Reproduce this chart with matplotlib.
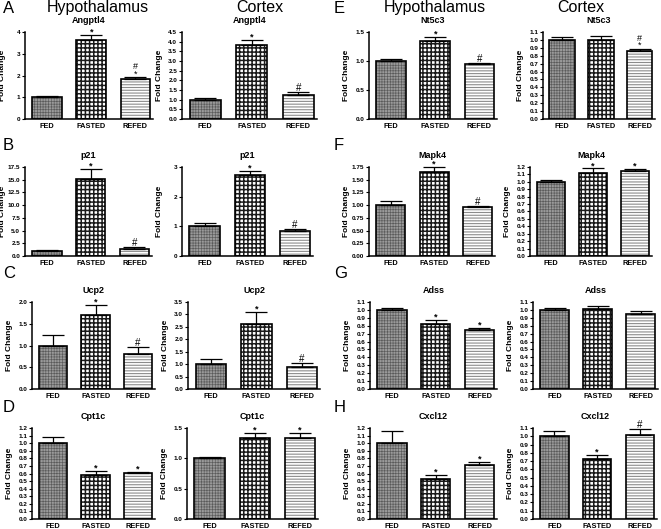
import matplotlib.pyplot as plt
import numpy as np

plt.rcParams['font.family'] = ['Liberation Sans', 'DejaVu Sans']

groups = ['FED', 'FASTED', 'REFED']
letters = ['A', 'B', 'C', 'D', 'E', 'F', 'G', 'H']
genes = ['Angptl4', 'p21', 'Ucp2', 'Cpt1c', 'Nt5c3', 'Mapk4', 'Adss', 'Cxcl12']

# hypothalamus (left panel of each pair)
hyp_means = [[1.0, 3.62, 1.82], [1.0, 15.1, 1.4], [1.0, 1.70, 0.80], [1.0, 0.58, 0.61],
             [1.0, 1.34, 0.94], [1.0, 1.65, 0.96], [1.0, 0.82, 0.75], [1.0, 0.53, 0.71]]
hyp_errs = [[0.06, 0.23, 0.12], [0.1, 2.1, 0.3], [0.24, 0.23, 0.17], [0.08, 0.05, 0.01],
            [0.04, 0.07, 0.02], [0.09, 0.1, 0.02], [0.03, 0.05, 0.02], [0.16, 0.05, 0.04]]
hyp_marks = [['', '*', '*#'], ['', '*', '#'], ['', '*', '#'], ['', '*', '*'],
             ['', '*', '#'], ['', '*', '#'], ['', '*', '*'], ['', '*', '*']]
hyp_ymax = [4, 17.5, 2.0, 1.2, 1.5, 1.75, 1.1, 1.2]
hyp_step = [1, 2.5, 0.5, 0.1, 0.5, 0.25, 0.1, 0.1]
hyp_fmt = ['%d', '%.1f', '%.1f', '%.1f', '%.1f', '%.2f', '%.1f', '%.1f']

# cortex (right panel of each pair)
ctx_means = [[1.0, 3.82, 1.22], [1.0, 2.74, 0.85], [1.0, 2.62, 0.90], [1.0, 1.34, 1.33],
             [1.0, 1.0, 0.86], [1.0, 1.12, 1.14], [1.0, 1.01, 0.95], [1.0, 0.72, 1.02]]
ctx_errs = [[0.1, 0.28, 0.18], [0.11, 0.14, 0.06], [0.22, 0.46, 0.14], [0.02, 0.07, 0.08],
            [0.035, 0.045, 0.03], [0.025, 0.06, 0.03], [0.02, 0.035, 0.035], [0.06, 0.05, 0.07]]
ctx_marks = [['', '*', '#'], ['', '*', '#'], ['', '*', '#'], ['', '*', '*'],
             ['', '', '*#'], ['', '*', '*'], ['', '', ''], ['', '*', '#']]
ctx_ymax = [4.5, 3, 3.5, 1.5, 1.1, 1.2, 1.1, 1.1]
ctx_step = [0.5, 1, 0.5, 0.5, 0.1, 0.1, 0.1, 0.1]
ctx_fmt = ['%.1f', '%d', '%.1f', '%.1f', '%.1f', '%.1f', '%.1f', '%.1f']

W, H = 661, 529
fig = plt.figure(figsize=(W / 100, H / 100), dpi=100)

# axes boxes in pixels: (left, top, right, bottom)
row_top = [32, 167, 302, 428]
row_bot = [119, 256, 389, 519]
col_lr = [
    [(25, 153), (182, 317), (369, 497), (543, 655)],
    [(25, 152), (182, 313), (369, 495), (530, 652)],
    [(32, 155), (188, 320), (370, 497), (533, 658)],
    [(32, 155), (187, 318), (370, 497), (533, 657)],
]


def set_hlw(p, lw):
    if hasattr(p, 'set_hatch_linewidth'):
        p.set_hatch_linewidth(lw)


def draw_panel(ax, gene, means, errs, marks, ymax, step, fmt, width_px):
    x = np.arange(len(groups))
    w = 0.67
    # FED: grey fine checker
    b = ax.bar(x[0], means[0], w, color='#9a9a9a', edgecolor='#5a5a5a', hatch='++++++', linewidth=0)
    set_hlw(b[0], 0.45)
    # FASTED: coarse black/white checker
    b = ax.bar(x[1], means[1], w, color='white', edgecolor='#1a1a1a', hatch='++++', linewidth=0)
    set_hlw(b[0], 1.1)
    # REFED: grey horizontal lines
    b = ax.bar(x[2], means[2], w, color='white', edgecolor='#8c8c8c', hatch='------', linewidth=0)
    set_hlw(b[0], 0.8)
    ax.bar(x, means, w, fill=False, edgecolor='black', linewidth=1.2, zorder=3)
    ax.errorbar(x, means, yerr=[np.zeros(3), errs], fmt='none', ecolor='black',
                elinewidth=0.9, capsize=8, capthick=0.9, zorder=4, clip_on=False)
    for i in range(3):
        top = means[i] + errs[i]
        m = marks[i]
        if m == '*':
            ax.annotate('*', (x[i], top), xytext=(0, 0.3), textcoords='offset points',
                        ha='center', va='baseline', fontsize=6.5, fontweight='bold')
        elif m == '#':
            ax.annotate('#', (x[i], top), xytext=(0, 0.8), textcoords='offset points',
                        ha='center', va='baseline', fontsize=7)
        elif m == '*#':
            ax.annotate('#\n*', (x[i], top), xytext=(0, 0.3), textcoords='offset points',
                        ha='center', va='baseline', fontsize=6.5, linespacing=0.75,
                        multialignment='center')
    ax.set_xlim(-0.5, 2.4)
    ax.set_ylim(0, ymax)
    ticks = np.arange(0, ymax + step / 2, step)
    ax.set_yticks(ticks)
    ax.set_yticklabels([fmt % t for t in ticks])
    ax.set_xticks(x)
    ax.set_xticklabels(groups)
    for s in ['top', 'right']:
        ax.spines[s].set_visible(False)
    for s in ['left', 'bottom']:
        ax.spines[s].set_linewidth(1.1)
    ax.tick_params(axis='y', length=2.5, width=0.8, pad=1, labelsize=4.6)
    ax.tick_params(axis='x', length=0, pad=3, labelsize=5.3)
    for t in ax.get_yticklabels() + ax.get_xticklabels():
        t.set_fontweight('bold')
    ax.set_ylabel('Fold Change', fontsize=6, fontweight='bold')
    ax.yaxis.set_label_coords(-19 / width_px, 0.5)
    ax.set_title(gene, fontsize=6.5, fontweight='bold', pad=6.5)


for k in range(8):
    row = k % 4
    side = k // 4
    for j, hyp in enumerate([True, False]):
        col = side * 2 + j
        l, r = col_lr[row][col]
        t, btm = row_top[row], row_bot[row]
        ax = fig.add_axes([l / W, 1 - btm / H, (r - l) / W, (btm - t) / H])
        if hyp:
            draw_panel(ax, genes[k], hyp_means[k], hyp_errs[k], hyp_marks[k],
                       hyp_ymax[k], hyp_step[k], hyp_fmt[k], r - l)
        else:
            draw_panel(ax, genes[k], ctx_means[k], ctx_errs[k], ctx_marks[k],
                       ctx_ymax[k], ctx_step[k], ctx_fmt[k], r - l)

# panel letters
letter_y = [13, 150, 278, 412]
for k in range(8):
    fig.text((3 if k < 4 else 334) / W, 1 - letter_y[k % 4] / H, letters[k],
             fontsize=12, va='baseline', ha='left')

# region headers
hy = 1 - 12 / H
fig.text(98 / W, hy, 'Hypothalamus', fontsize=11.5, ha='center', va='baseline')
fig.text(260 / W, hy, 'Cortex', fontsize=11.5, ha='center', va='baseline')
fig.text(435 / W, hy, 'Hypothalamus', fontsize=11.5, ha='center', va='baseline')
fig.text(581 / W, hy, 'Cortex', fontsize=11.5, ha='center', va='baseline')

fig.savefig('out.png', dpi=100)
